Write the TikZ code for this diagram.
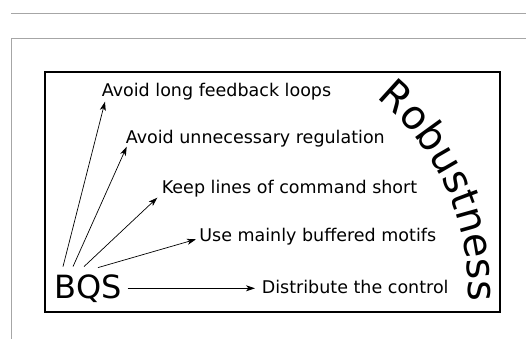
\documentclass[tikz,border=0pt]{standalone}
\usepackage{fontspec}
\setmainfont{DejaVu Sans}
\usepackage{tikz}
\usetikzlibrary{arrows.meta,decorations.text}
\tikzset{
  rule/.style = {draw=black!35, line width=1pt},% grey page lines
  frame/.style = {draw=black, line width=1.2pt},
  advice/.style = {inner sep=0pt, anchor=base west,
    font=\fontsize{17.5}{21}\selectfont},% one design rule
  bq/.style = {inner sep=0pt, anchor=base west,
    font=\fontsize{32}{38}\selectfont}% big BQS label
}

\begin{document}
\begin{tikzpicture}[x=1pt,y=1pt,->,>={Stealth[length=9pt,width=6pt,inset=2.5pt]},line width=0.7pt]
\useasboundingbox (0,0) rectangle (526,339);
\draw[rule,-] (11,325) -- (526,325);
\draw[rule,-] (11,0) -- (11,300.5) -- (526,300.5);
\draw[frame,-] (45,27) rectangle (500,267);

\node [bq] (bqs) at (54,40.7) {BQS};
\node [advice] (fb) at (101.5,242.3) {Avoid long feedback loops};
\node [advice] (reg) at (125.5,195.7) {Avoid unnecessary regulation};
\node [advice] (cmd) at (161.5,145.7) {Keep lines of command short};
\node [advice] (buf) at (199,97.3) {Use mainly buffered motifs};
\node [advice] (dist) at (261.5,45) {Distribute the control};

\draw ([shift={(9,7.6)}]bqs.north west) -- ([shift={(3.5,-5)}]fb.base west);
\draw ([shift={(19,7.6)}]bqs.north west) -- ([shift={(1.2,-3.4)}]reg.base west);
\draw ([shift={(30,7.6)}]bqs.north west) -- ([shift={(-4.2,-4.4)}]cmd.base west);
\draw ([shift={(44,6.6)}]bqs.north west) -- ([shift={(-3,2.4)}]buf.base west);
\draw ([shift={(5.5,10)}]bqs.base east) -- ([shift={(-6.5,5.7)}]dist.base west);

% curved title
\path [decorate,decoration={text along path,
  text={|\fontsize{40}{40}\selectfont|Robustness}}]
  (221,49) ++(51:247pt) arc [start angle=51, end angle=-8, radius=247pt];
\end{tikzpicture}
\end{document}
